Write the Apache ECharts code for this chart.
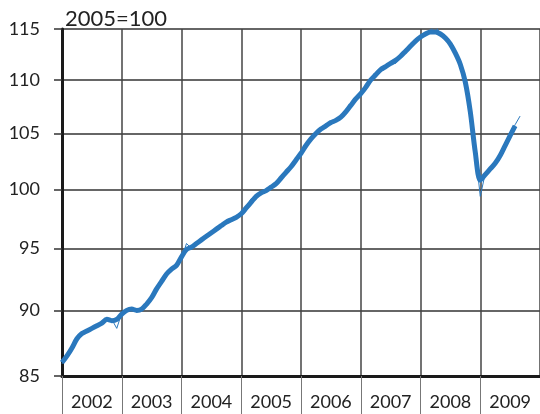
<!DOCTYPE html>
<html>
<head>
<meta charset="utf-8">
<script src="https://cdn.jsdelivr.net/npm/echarts@6/dist/echarts.min.js"></script>
<style>
	html, body { margin: 0; padding: 0; background: #fff; }
	#chart { width: 540px; height: 414px; }
</style>
</head>
<body>
<div id="chart"></div>
<script>
// years shown on the x axis
const years = ['2002', '2003', '2004', '2005', '2006', '2007', '2008', '2009'];
// y axis tick values (log scale)
const yTicks = [85, 90, 95, 100, 105, 110, 115];

// smoothed index, monthly from Jan 2002
const trend = [
	86.0, 86.5, 87.1, 87.8, 88.2, 88.4, 88.6, 88.8, 89.0, 89.3, 89.2, 89.3,
	89.7, 90.0, 90.1, 90.0, 90.1, 90.5, 91.0, 91.7, 92.3, 92.9, 93.3, 93.6,
	94.3, 94.9, 95.1, 95.4, 95.7, 96.0, 96.3, 96.6, 96.9, 97.2, 97.4, 97.6,
	97.9, 98.4, 98.9, 99.4, 99.7, 99.9, 100.2, 100.5, 101.0, 101.5, 102.0, 102.6,
	103.2, 103.9, 104.5, 105.0, 105.4, 105.7, 106.0, 106.2, 106.5, 107.0, 107.6, 108.2,
	108.7, 109.3, 110.0, 110.5, 111.0, 111.3, 111.6, 111.9, 112.3, 112.8, 113.3, 113.8,
	114.2, 114.5, 114.7, 114.7, 114.5, 114.1, 113.5, 112.6, 111.5, 109.8, 107.0, 103.3,
	100.8, 101.3, 101.8, 102.3, 103.0, 103.9, 104.8, 105.7
];

// raw monthly index, Jan 2002 to Sep 2009
const monthly = [
	85.9, 86.6, 87.0, 87.9, 88.1, 88.5, 88.5, 88.9, 89.0, 89.3, 89.3, 88.6,
	89.8, 90.0, 90.0, 90.1, 90.0, 90.7, 90.8, 91.8, 92.1, 93.1, 93.1, 93.8,
	94.1, 95.4, 95.0, 95.5, 95.6, 96.1, 96.2, 96.7, 96.8, 97.3, 97.3, 97.7,
	97.8, 98.5, 99.2, 99.3, 99.8, 99.8, 100.3, 100.4, 101.1, 101.4, 102.2, 102.5,
	102.9, 104.1, 104.4, 105.1, 105.3, 105.6, 106.1, 106.1, 106.6, 106.9, 107.8, 108.1,
	108.8, 109.2, 110.1, 110.4, 111.1, 111.2, 111.7, 111.6, 112.4, 112.7, 113.4, 113.7,
	114.4, 114.4, 114.9, 115.4, 114.4, 114.2, 113.4, 112.7, 111.4, 109.9, 106.9, 103.5,
	99.4, 101.4, 101.7, 102.4, 102.9, 104.0, 104.7, 105.8, 106.6
];

const toPoints = arr => arr.map((v, i) => [2002 + i / 12, v]);

const chart = echarts.init(document.getElementById('chart'));

const option = {
	animation: false,
	textStyle: { fontFamily: 'Lato, "DejaVu Sans", sans-serif' },
	title: {
		text: '2005=100',
		left: 60,
		top: 3,
		textStyle: { fontSize: 22, fontWeight: 'normal', color: '#222', fontFamily: 'Lato, sans-serif' }
	},
	grid: { left: 62, right: 0, top: 29, bottom: 38 },
	xAxis: [
		{
			type: 'category',
			data: years,
			boundaryGap: true,
			axisLine: { show: true, lineStyle: { color: '#1a1a1a', width: 3 } },
			axisTick: { show: true, length: 38, lineStyle: { color: '#777', width: 1 } },
			axisLabel: { fontSize: 18, color: '#222', margin: 17 },
			splitLine: { show: true, lineStyle: { color: '#444', width: 1.5 } }
		},
		{
			type: 'value',
			min: 2002,
			max: 2010,
			show: false
		}
	],
	yAxis: {
		type: 'log',
		min: 85,
		max: 115,
		axisLine: { show: true, onZero: false, lineStyle: { color: '#1a1a1a', width: 3 } },
		axisTick: { show: true, length: 8, customValues: yTicks, lineStyle: { color: '#333', width: 1.5 } },
		axisLabel: { customValues: yTicks, fontSize: 18, color: '#222', margin: 22 },
		splitLine: { show: true, lineStyle: { color: '#333', width: 1.5 } },
		minorTick: { show: false },
		minorSplitLine: { show: false }
	},
	series: [
		{
			name: 'monthly',
			type: 'line',
			xAxisIndex: 1,
			data: toPoints(monthly),
			showSymbol: false,
			lineStyle: { color: '#2a78bd', width: 1 },
			z: 3
		},
		{
			name: 'trend',
			type: 'line',
			xAxisIndex: 1,
			data: toPoints(trend),
			showSymbol: false,
			smooth: 0.3,
			lineStyle: { color: '#2a78bd', width: 5 },
			z: 4
		}
	]
};

chart.setOption(option);
</script>
</body>
</html>
